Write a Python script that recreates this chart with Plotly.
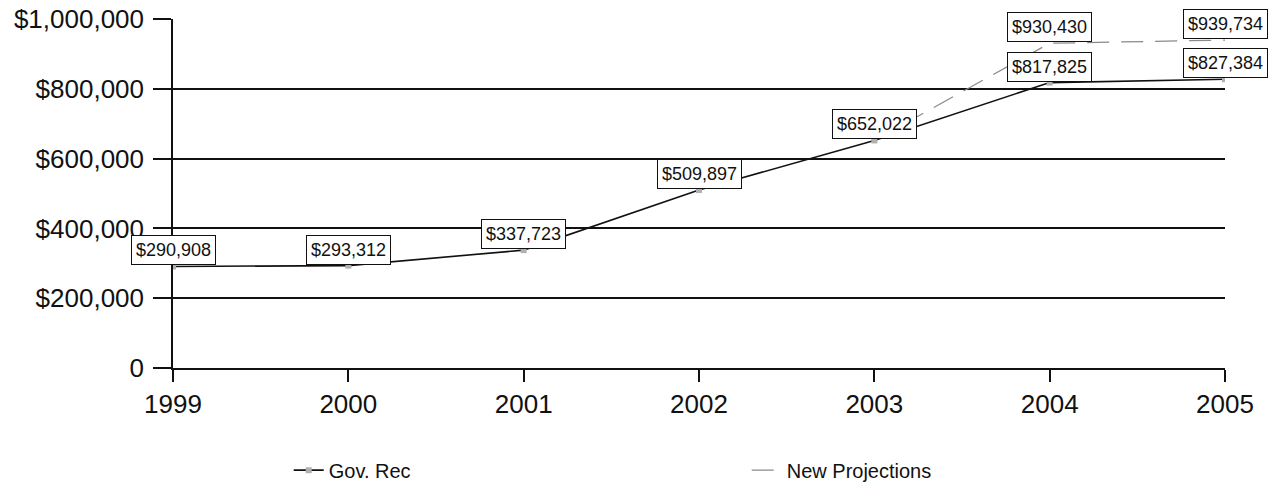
import plotly.graph_objects as go

years = [1999, 2000, 2001, 2002, 2003, 2004, 2005]
gov_rec = [290908, 293312, 337723, 509897, 652022, 817825, 827384]
proj_years = [2003, 2004, 2005]
new_proj = [652022, 930430, 939734]

y_ticks = [0, 200000, 400000, 600000, 800000, 1000000]
y_ticktext = ["0", "$200,000", "$400,000", "$600,000", "$800,000", "$1,000,000"]

FONT = "Liberation Sans, Arial, sans-serif"

fig = go.Figure()
fig.add_trace(go.Scatter(
    x=proj_years, y=new_proj, name="New Projections", mode="lines",
    line=dict(color="#8a8a8a", width=1.2, dash="22px,12px")))
fig.add_trace(go.Scatter(
    x=years, y=gov_rec, name="Gov. Rec", mode="lines+markers",
    line=dict(color="#111111", width=1.6),
    marker=dict(symbol="square", size=6, color="#b0b0b0",
                line=dict(width=0))))

def label(x, y):
    fig.add_annotation(
        x=x, y=y, text="${:,}".format(y), showarrow=False,
        yshift=16, font=dict(family=FONT, size=18, color="#111"),
        bgcolor="white", bordercolor="#111", borderwidth=1, borderpad=4)

for x, y in zip(years, gov_rec):
    label(x, y)
for x, y in zip(proj_years[1:], new_proj[1:]):
    label(x, y)

fig.update_layout(
    width=1278, height=497,
    margin=dict(l=173, r=53, t=19, b=129, autoexpand=False),
    paper_bgcolor="white", plot_bgcolor="white",
    font=dict(family=FONT, color="#111"),
    showlegend=True,
    legend=dict(orientation="h", x=0.110, y=0.054, xanchor="left", yanchor="middle",
                yref="container",
                font=dict(size=20, family=FONT), entrywidth=413, entrywidthmode="pixels",
                traceorder="reversed", bgcolor="rgba(0,0,0,0)"),
    xaxis=dict(range=[1999, 2005], tickvals=years, ticktext=[str(v) for v in years],
               showgrid=False, showline=True, linecolor="#111", linewidth=1.5,
               ticks="outside", ticklen=12, tickcolor="#111", tickwidth=1.5,
               tickfont=dict(size=26, family=FONT), zeroline=False, fixedrange=True,
               automargin=False),
    yaxis=dict(range=[0, 1000000], tickvals=y_ticks, ticktext=y_ticktext,
               showgrid=True, gridcolor="#111", gridwidth=1.5,
               showline=True, linecolor="#111", linewidth=1.5,
               ticks="outside", ticklen=18, tickcolor="#111", tickwidth=1.5,
               ticklabelstandoff=4,
               tickfont=dict(size=26, family=FONT), zeroline=False, fixedrange=True,
               automargin=False),
)

fig.write_html("out.html")
